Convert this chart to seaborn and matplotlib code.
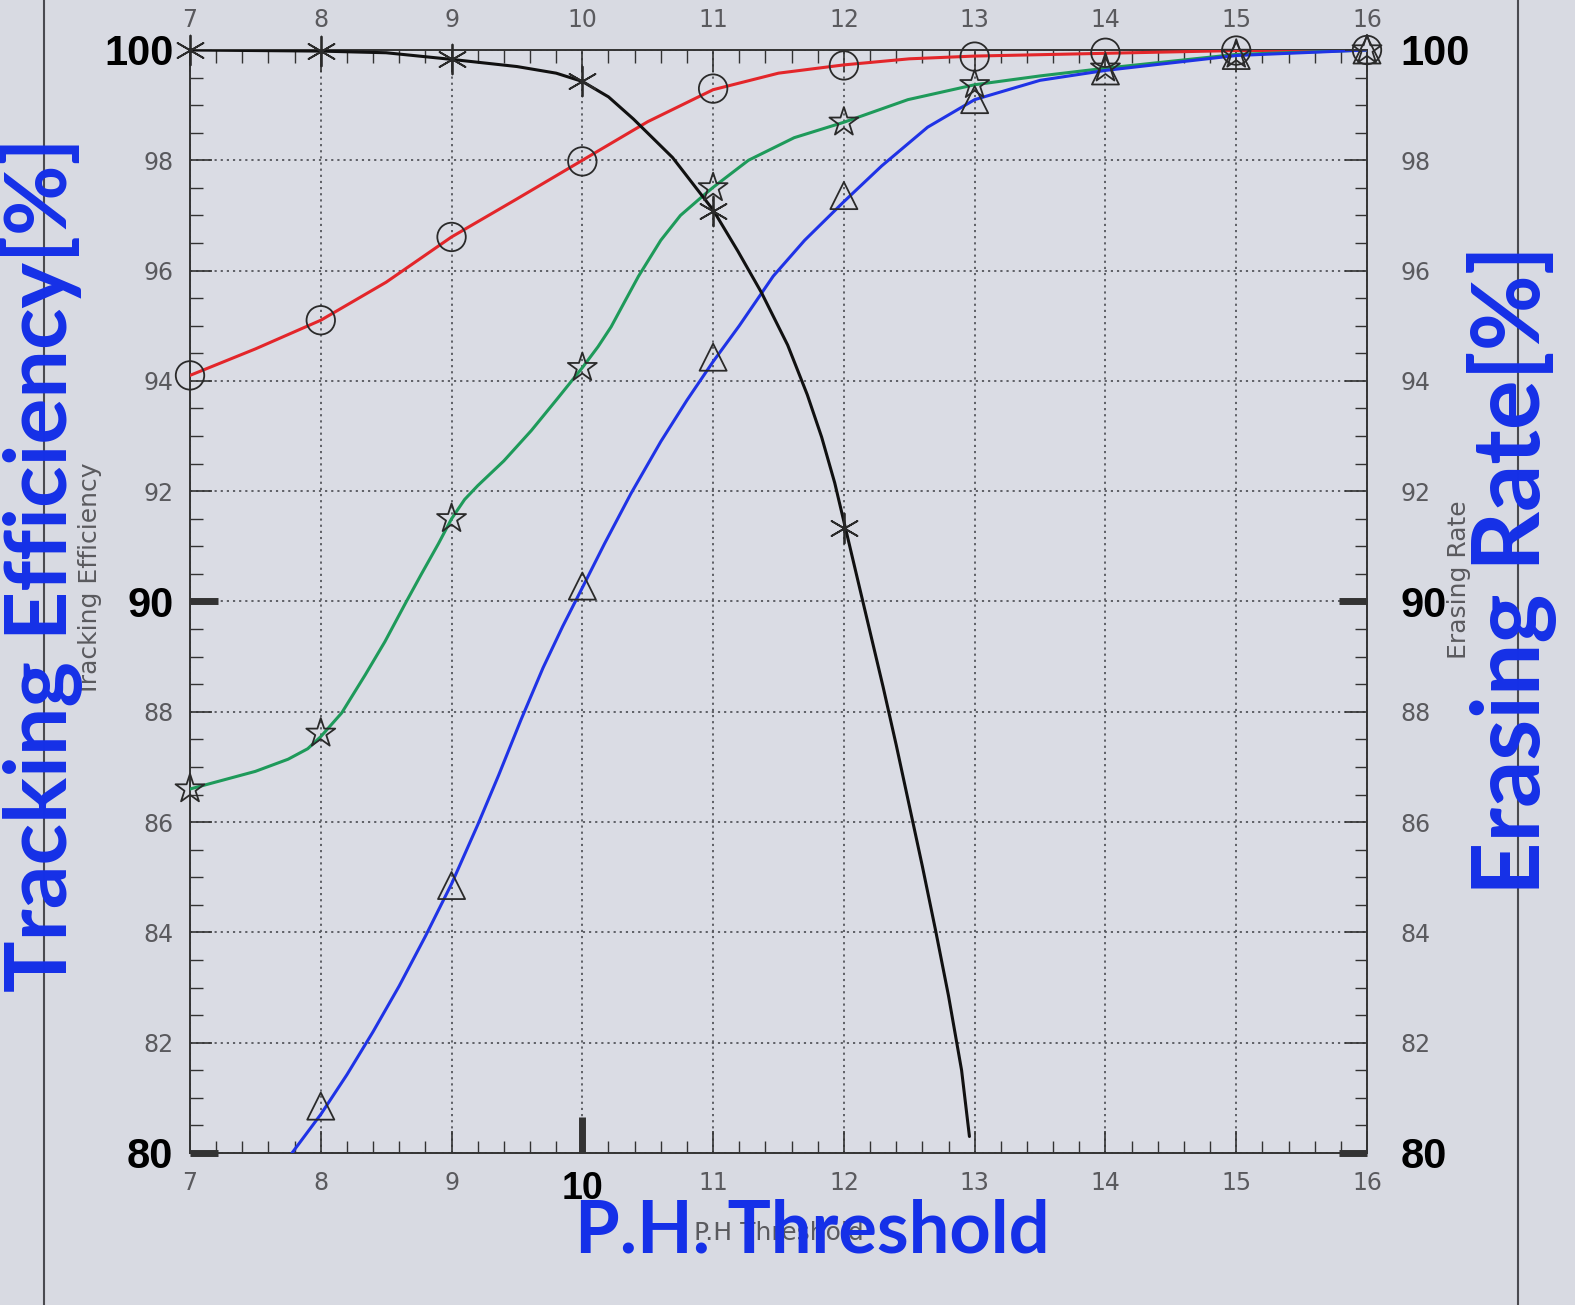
import matplotlib
matplotlib.use("Agg")
import matplotlib.pyplot as plt
import seaborn as sns
import pandas as pd
from matplotlib.ticker import MultipleLocator
from matplotlib.lines import Line2D

# ---------------- data ----------------
thresholds = [7, 8, 9, 10, 11, 12, 13, 14, 15, 16]
x_tick_labels = ["7", "8", "9", "10", "11", "12", "13", "14", "15", "16"]
y_ticks = [80, 82, 84, 86, 88, 90, 92, 94, 96, 98, 100]

# marker values
red_marks = [94.10, 95.10, 96.61, 97.98, 99.30, 99.72, 99.88, 99.95, 99.99, 100.0]
green_marks = [86.60, 87.61, 91.50, 94.24, 97.50, 98.69, 99.37, 99.67, 99.92, 100.0]
blue_marks_x = [8, 9, 10, 11, 12, 13, 14, 15, 16]
blue_marks = [80.85, 84.85, 90.28, 94.43, 97.36, 99.10, 99.62, 99.90, 100.0]
black_marks_x = [7, 8, 9, 10, 11, 12]
black_marks = [100.0, 99.98, 99.83, 99.43, 97.08, 91.34]

# smooth curves
red_curve_x = [7, 7.5, 8, 8.5, 9, 9.5, 10, 10.5, 11, 11.5, 12, 12.5, 13, 14, 15, 16]
red_curve_y = [94.10, 94.58, 95.10, 95.79, 96.61, 97.30, 98.0, 98.70, 99.28, 99.58,
               99.73, 99.84, 99.89, 99.94, 99.99, 100.0]
green_curve_x = [7, 7.5, 7.75, 7.9, 8, 8.16, 8.34, 8.49, 8.65, 8.77, 8.90, 9, 9.1,
                 9.2, 9.4, 9.61, 9.81, 10, 10.12, 10.22, 10.32, 10.43, 10.6, 10.75,
                 10.92, 11, 11.27, 11.62, 12, 12.49, 13, 13.5, 14, 15, 16]
green_curve_y = [86.60, 86.92, 87.14, 87.33, 87.55, 87.98, 88.67, 89.27, 89.98, 90.5,
                 91.05, 91.50, 91.85, 92.1, 92.55, 93.1, 93.68, 94.24, 94.62, 94.98,
                 95.42, 95.9, 96.55, 97.0, 97.35, 97.51, 98.0, 98.41, 98.69, 99.10,
                 99.37, 99.53, 99.67, 99.92, 100.0]
blue_curve_x = [7.78, 8.0, 8.2, 8.4, 8.6, 8.8, 9.0, 9.2, 9.36, 9.53, 9.7, 9.85, 10.0,
                10.17, 10.37, 10.6, 10.8, 11, 11.2, 11.46, 11.7, 12, 12.29, 12.64, 13,
                13.5, 14, 15, 16]
blue_curve_y = [80.0, 80.7, 81.42, 82.2, 83.03, 83.93, 84.88, 85.95, 86.85, 87.85,
                88.8, 89.55, 90.25, 91.05, 91.95, 92.9, 93.65, 94.35, 95.0, 95.9, 96.55,
                97.25, 97.9, 98.6, 99.1, 99.45, 99.63, 99.9, 100.0]
black_curve_x = [7, 8, 8.5, 9, 9.5, 9.8, 10, 10.2, 10.39, 10.69, 11, 11.19, 11.37,
                 11.57, 11.72, 11.83, 11.93, 12.0, 12.1, 12.2, 12.3, 12.4, 12.5, 12.6,
                 12.7, 12.8, 12.9, 12.96]
black_curve_y = [100.0, 99.98, 99.95, 99.83, 99.70, 99.58, 99.43, 99.15, 98.75, 98.05,
                 97.10, 96.35, 95.6, 94.65, 93.75, 92.98, 92.15, 91.45, 90.45, 89.45,
                 88.45, 87.4, 86.3, 85.2, 84.05, 82.85, 81.5, 80.3]

# ---------------- style ----------------
sns.set_theme(style="ticks")
plt.rcParams["font.family"] = ["DejaVu Sans"]

paper = "#d8dae2"
gray_txt = "#5a5a5e"
c_red, c_green, c_blue, c_black = "#e3262a", "#1e9a5a", "#1f33e6", "#111111"
hand_blue = "#1530e8"

fig = plt.figure(figsize=(15.75, 13.05), dpi=100, facecolor=paper)
ax = fig.add_axes([190 / 1575, 1 - 1153 / 1305, 1177 / 1575, 1103 / 1305])
ax.set_facecolor("#dadce4")

curves = [
    (red_curve_x, red_curve_y, c_red),
    (green_curve_x, green_curve_y, c_green),
    (blue_curve_x, blue_curve_y, c_blue),
    (black_curve_x, black_curve_y, c_black),
]
for cx, cy, col in curves:
    df = pd.DataFrame({"x": cx, "y": cy})
    sns.lineplot(data=df, x="x", y="y", ax=ax, color=col, lw=2.2,
                 sort=False, estimator=None, zorder=3,
                 solid_joinstyle="round", solid_capstyle="round")

marks = [
    (thresholds, red_marks, "o", 420),
    (thresholds, green_marks, "*", 480),
    (blue_marks_x, blue_marks, "^", 380),
    (black_marks_x, black_marks, (6, 2, 0), 460),
]
for mx, my, mk, sz in marks:
    df = pd.DataFrame({"x": mx, "y": my})
    if mk in ("o", "^", "*"):
        sns.scatterplot(data=df, x="x", y="y", ax=ax, marker=mk, s=sz,
                        facecolors="none", edgecolors="#2a2a2a", linewidths=1.3,
                        zorder=4, clip_on=False)
    else:
        sns.scatterplot(data=df, x="x", y="y", ax=ax, marker=mk, s=sz,
                        color="#2a2a2a", linewidths=1.3, zorder=4, clip_on=False)

ax.set_xlim(7, 16)
ax.set_ylim(80, 100)
ax.set_xticks(thresholds)
ax.set_xticklabels(x_tick_labels)
ax.set_yticks(y_ticks)
ax.set_yticklabels([str(v) for v in y_ticks])
ax.xaxis.set_minor_locator(MultipleLocator(0.2))
ax.yaxis.set_minor_locator(MultipleLocator(0.5))
ax.grid(True, which="major", linestyle=(0, (1.2, 2.2)), color="#55565c", lw=1.3)

ax.tick_params(axis="both", which="both", direction="in", top=True, right=False,
               labeltop=True, labelbottom=True, colors="#333333",
               labelcolor=gray_txt, labelsize=17)
ax.tick_params(axis="both", which="major", length=16, width=1.2)
ax.tick_params(axis="both", which="minor", length=9, width=1.0)
ax.tick_params(axis="y", which="major", pad=12)
ax.tick_params(axis="x", which="major", pad=13)
for s in ax.spines.values():
    s.set_color("#333333")
    s.set_linewidth(1.4)

ax.set_xlabel("P.H Threshold", color=gray_txt, fontsize=18)
ax.xaxis.set_label_coords(0.5, -0.062)
ax.set_ylabel("Tracking Efficiency", color=gray_txt, fontsize=18)
ax.yaxis.set_label_coords(-0.075, 0.52)

# right axis
ax2 = ax.twinx()
ax2.set_ylim(80, 100)
ax2.set_yticks(y_ticks)
ax2.set_yticklabels([str(v) for v in y_ticks])
ax2.yaxis.set_minor_locator(MultipleLocator(0.5))
ax2.tick_params(axis="y", which="both", direction="in", colors="#333333",
                labelcolor=gray_txt, labelsize=17)
ax2.tick_params(axis="y", which="major", length=16, width=1.2, pad=24)
ax2.tick_params(axis="y", which="minor", length=9, width=1.0)
ax2.grid(False)
ax2.set_ylabel("Erasing Rate", color=gray_txt, fontsize=18)
ax2.yaxis.set_label_coords(1.068, 0.52)
for s in ax2.spines.values():
    s.set_visible(False)

# handwritten bold labels / ticks
bold_vals = {"80", "90", "100"}
bold_family = ["Liberation Sans", "DejaVu Sans"]
for t in ax.yaxis.get_major_ticks():
    if t.label1.get_text() in bold_vals:
        t.label1.set_color("black")
        t.label1.set_fontfamily(bold_family)
        t.label1.set_fontweight("bold")
        t.label1.set_fontsize(30)
    if t.label1.get_text() in {"80", "90"}:
        t.tick1line.set_markeredgewidth(5)
        t.tick1line.set_markersize(20)
        t.tick1line.set_color("black")
for t in ax2.yaxis.get_major_ticks():
    if t.label2.get_text() in bold_vals:
        t.label2.set_color("black")
        t.label2.set_fontfamily(bold_family)
        t.label2.set_fontweight("bold")
        t.label2.set_fontsize(30)
    if t.label2.get_text() in {"80", "90"}:
        t.tick2line.set_markeredgewidth(5)
        t.tick2line.set_markersize(20)
        t.tick2line.set_color("black")
for t in ax.xaxis.get_major_ticks():
    if t.label1.get_text() == "10":
        t.label1.set_color("black")
        t.label1.set_fontfamily(bold_family)
        t.label1.set_fontweight("bold")
        t.label1.set_fontsize(27)
        t.tick1line.set_markeredgewidth(5)
        t.tick1line.set_markersize(26)
        t.tick1line.set_color("black")

# blue hand-written titles
hand = dict(color=hand_blue, family=["Lato", "DejaVu Sans"], weight="bold")
fig.text(42 / 1575, 1 - 565 / 1305, "Tracking Efficiency[%]", rotation=90,
         ha="center", va="center", fontsize=62, **hand)
fig.text(1512 / 1575, 1 - 570 / 1305, "Erasing Rate[%]", rotation=90,
         ha="center", va="center", fontsize=67, **hand)
fig.text(812 / 1575, 1 - 1232 / 1305, "P.H. Threshold", ha="center", va="center",
         fontsize=52, **hand)

# scanned page border lines
for xp in (44, 1518):
    fig.add_artist(Line2D([xp / 1575, xp / 1575], [0, 1], transform=fig.transFigure,
                          color="#4a4a50", lw=1.5))

fig.savefig("out.png", dpi=100, facecolor=paper)
